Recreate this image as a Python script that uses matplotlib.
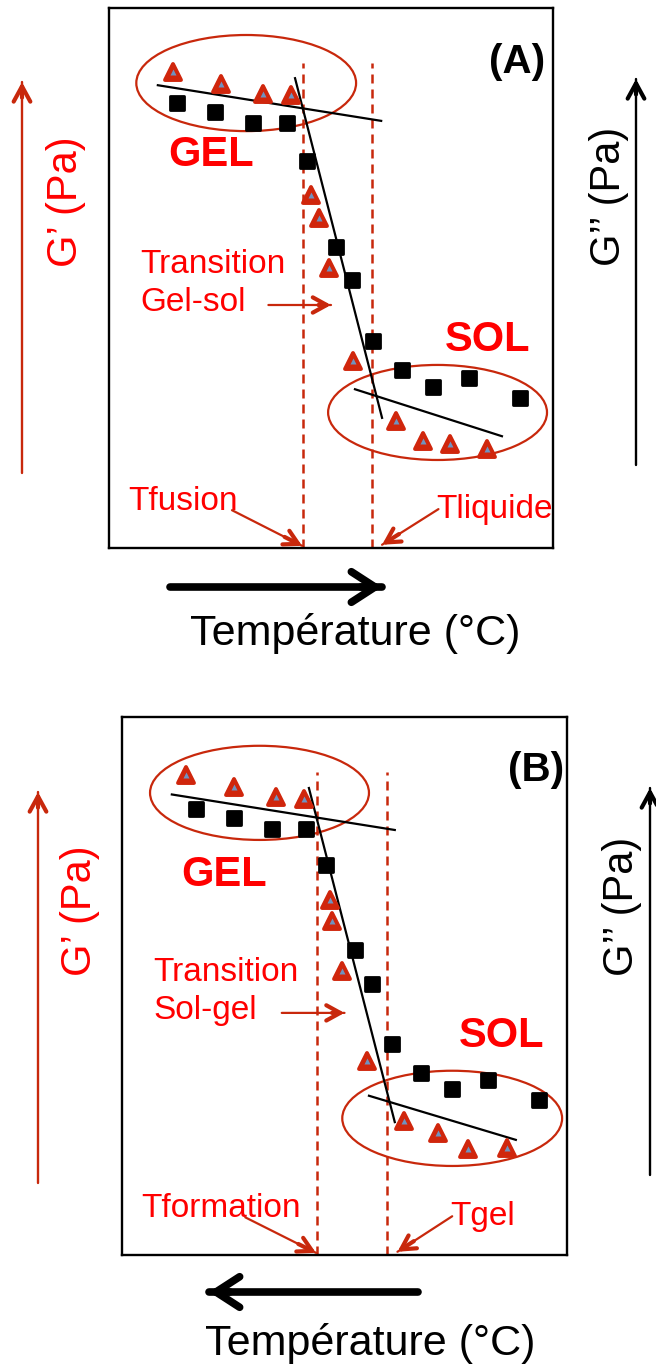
import matplotlib
matplotlib.use('Agg')
import matplotlib.pyplot as plt
from matplotlib.patches import Ellipse
from matplotlib.markers import MarkerStyle

plt.rcParams['font.family'] = ['Liberation Sans', 'DejaVu Sans']

# === Données lues sur le schéma (unités arbitraires 0-100 dans chaque cadre) ===
# (A) chauffage : G' (triangles) et G'' (carrés)
a_gp_x = [14.4, 25.2, 34.7, 41.0, 45.5, 47.3, 49.5, 54.9, 64.6, 70.7, 76.8, 85.1]
a_gp_y = [88.1, 85.9, 84.1, 83.9, 65.4, 61.1, 51.9, 34.6, 23.5, 19.8, 19.3, 18.3]
a_gpp_x = [15.3, 23.9, 32.4, 40.1, 44.6, 51.1, 54.7, 59.5, 66.0, 73.0, 81.1, 92.6]
a_gpp_y = [82.4, 80.7, 78.7, 78.7, 71.7, 55.7, 49.6, 38.3, 33.0, 29.8, 31.5, 27.8]
a_fit_gel = ([11.0, 61.3], [85.7, 79.1])
a_fit_trans = ([41.9, 61.5], [87.0, 24.1])
a_fit_sol = ([55.4, 88.5], [29.4, 20.7])
a_temps = [43.7, 59.2]          # Tfusion, Tliquide

# (B) refroidissement
b_gp_x = [14.4, 25.2, 34.6, 40.9, 46.7, 47.2, 49.4, 55.1, 63.4, 71.0, 77.8, 86.5]
b_gp_y = [89.2, 87.0, 85.1, 84.8, 66.0, 62.1, 52.8, 36.1, 24.9, 22.7, 19.7, 19.9]
b_gpp_x = [16.6, 25.2, 33.7, 41.3, 45.8, 52.4, 56.2, 60.7, 67.2, 74.2, 82.2, 93.7]
b_gpp_y = [82.9, 81.2, 79.2, 79.2, 72.5, 56.7, 50.4, 39.2, 33.8, 30.9, 32.5, 28.8]
b_fit_gel = ([11.2, 61.3], [85.6, 79.0])
b_fit_trans = ([42.0, 61.3], [86.8, 24.7])
b_fit_sol = ([55.5, 88.5], [29.6, 21.4])
b_temps = [43.8, 59.6]          # Tformation, Tgel

RED = '#ff0000'
DARK = '#c8280c'
W, H = 656, 1365

fig = plt.figure(figsize=(W / 100, H / 100), dpi=100)
fig.patch.set_facecolor('white')

# fond en pixels (y vers le bas) pour les flèches hors cadre
bg = fig.add_axes([0, 0, 1, 1], zorder=-1)
bg.set_xlim(0, W)
bg.set_ylim(H, 0)
bg.axis('off')

tri = MarkerStyle('^', joinstyle='round')
sq = MarkerStyle('s', joinstyle='round')


def arrow(ax, start, end, color, lw, lw_head, hl, hw, frac=0.14):
    # tige fine + tête plus épaisse, comme sur le schéma
    ax.annotate('', xy=end, xytext=start, annotation_clip=False,
                arrowprops=dict(arrowstyle='-', color=color, lw=lw, shrinkA=0, shrinkB=0))
    mid = (end[0] - frac * (end[0] - start[0]), end[1] - frac * (end[1] - start[1]))
    ax.annotate('', xy=end, xytext=mid, annotation_clip=False,
                arrowprops=dict(arrowstyle=f'->,head_length={hl},head_width={hw}',
                                color=color, lw=lw_head, shrinkA=0, shrinkB=0,
                                capstyle='round', joinstyle='round'))


def panel(box, gp_x, gp_y, gpp_x, gpp_y, fits, temps, ells, tag, gel_y, sol_y, trans, tnames):
    left, top, right, bottom = box
    ax = fig.add_axes([left / W, 1 - bottom / H, (right - left) / W, (bottom - top) / H])
    ax.set_xlim(0, 100)
    ax.set_ylim(0, 100)
    ax.set_xticks([])
    ax.set_yticks([])
    for s in ax.spines.values():
        s.set_linewidth(1.7)
        s.set_color('black')

    # lignes verticales pointillées
    for t in temps:
        ax.plot([t, t], [0, 89.8], color=DARK, lw=1.8, ls=(0, (3.6, 2.4)), zorder=1)

    # ellipses GEL / SOL
    for (cx, cy, w, h) in ells:
        ax.add_patch(Ellipse((cx, cy), w, h, fill=False, ec=DARK, lw=1.6, zorder=2))

    # droites de tendance
    for fx, fy in fits:
        ax.plot(fx, fy, color='black', lw=1.6, zorder=4)

    # G'' (carrés noirs) et G' (triangles rouges)
    ax.plot(gpp_x, gpp_y, ls='none', marker=sq, ms=9.5, mfc='black', mec='black', mew=2, zorder=5)
    ax.plot(gp_x, gp_y, ls='none', marker=tri, ms=11.5, mfc='#d0260c', mec='#d0260c', mew=2.8, zorder=5)
    ax.plot(gp_x, gp_y, ls='none', marker='^', ms=3.8, mfc='#6f93c0', mec='none', zorder=6)

    ax.text(tag[1], tag[2], tag[0], fontsize=29, fontweight='bold', ha='center', va='center')
    ax.text(23.0, gel_y, 'GEL', color=RED, fontsize=30, fontweight='bold', ha='center', va='center')
    ax.text(85.3, sol_y, 'SOL', color=RED, fontsize=30, fontweight='bold', ha='center', va='center')

    ax.text(7.0, 50.9, 'Transition', color=RED, fontsize=24, va='baseline')
    ax.text(7.0, 43.9, trans, color=RED, fontsize=24, va='baseline')
    arrow(ax, (35.9, 45.0), (50.0, 45.0), DARK, 1.6, 3.0, 1.0, 0.55, frac=0.2)

    ax.text(4.4, 7.1, tnames[0], color=RED, fontsize=24, va='baseline')
    arrow(ax, (27.7, 7.0), (temps[0] - 0.2, 0.4), DARK, 1.6, 3.0, 1.0, 0.55, frac=0.25)
    ax.text(73.8, 5.6, tnames[1], color=RED, fontsize=24, va='baseline')
    arrow(ax, (74.2, 7.2), (temps[1] + 2.3, 0.6), DARK, 1.6, 3.0, 1.0, 0.55, frac=0.3)
    return ax


panel((109, 8, 553, 548), a_gp_x, a_gp_y, a_gpp_x, a_gpp_y,
      [a_fit_gel, a_fit_trans, a_fit_sol], a_temps,
      [(30.9, 86.1, 49.5, 17.8), (74.0, 25.1, 49.3, 17.6)],
      ('(A)', 92.0, 90.0), 72.8, 38.5, 'Gel-sol', ('Tfusion', 'Tliquide'))

panel((122, 717, 567, 1255), b_gp_x, b_gp_y, b_gpp_x, b_gpp_y,
      [b_fit_gel, b_fit_trans, b_fit_sol], b_temps,
      [(30.9, 85.9, 49.2, 17.5), (74.2, 25.4, 49.4, 17.7)],
      ('(B)', 93.0, 90.1), 70.6, 40.7, 'Sol-gel', ('Tformation', 'Tgel'))

# === éléments hors cadre (pixels, y compté depuis le haut) ===
# axes verticaux G' / G''
arrow(bg, (22, 473), (22, 82), DARK, 1.7, 3.0, 1.1, 0.6, frac=0.04)
bg.text(66, 202, 'G\u2019 (Pa)', color=RED, fontsize=30, rotation=90, ha='center', va='center')
arrow(bg, (636, 465), (636, 79), 'black', 1.7, 3.0, 1.1, 0.6, frac=0.04)
bg.text(609, 196, 'G\u2019\u2019 (Pa)', color='black', fontsize=30, rotation=90, ha='center', va='center')

arrow(bg, (38, 1183), (38, 792), DARK, 1.7, 3.0, 1.1, 0.6, frac=0.04)
bg.text(80, 911, 'G\u2019 (Pa)', color=RED, fontsize=30, rotation=90, ha='center', va='center')
arrow(bg, (650, 1175), (650, 788), 'black', 1.7, 3.0, 1.1, 0.6, frac=0.04)
bg.text(622, 906, 'G\u2019\u2019 (Pa)', color='black', fontsize=30, rotation=90, ha='center', va='center')

# axes horizontaux Température
arrow(bg, (170, 587), (382, 587), 'black', 5.5, 5.5, 1.7, 1.1, frac=0.1)
bg.text(355, 645, 'Température (°C)', fontsize=31, ha='center', va='baseline')
arrow(bg, (418, 1292), (209, 1292), 'black', 5.5, 5.5, 1.7, 1.1, frac=0.1)
bg.text(370, 1355, 'Température (°C)', fontsize=31, ha='center', va='baseline')

fig.savefig('out.png', dpi=100, facecolor='white')
